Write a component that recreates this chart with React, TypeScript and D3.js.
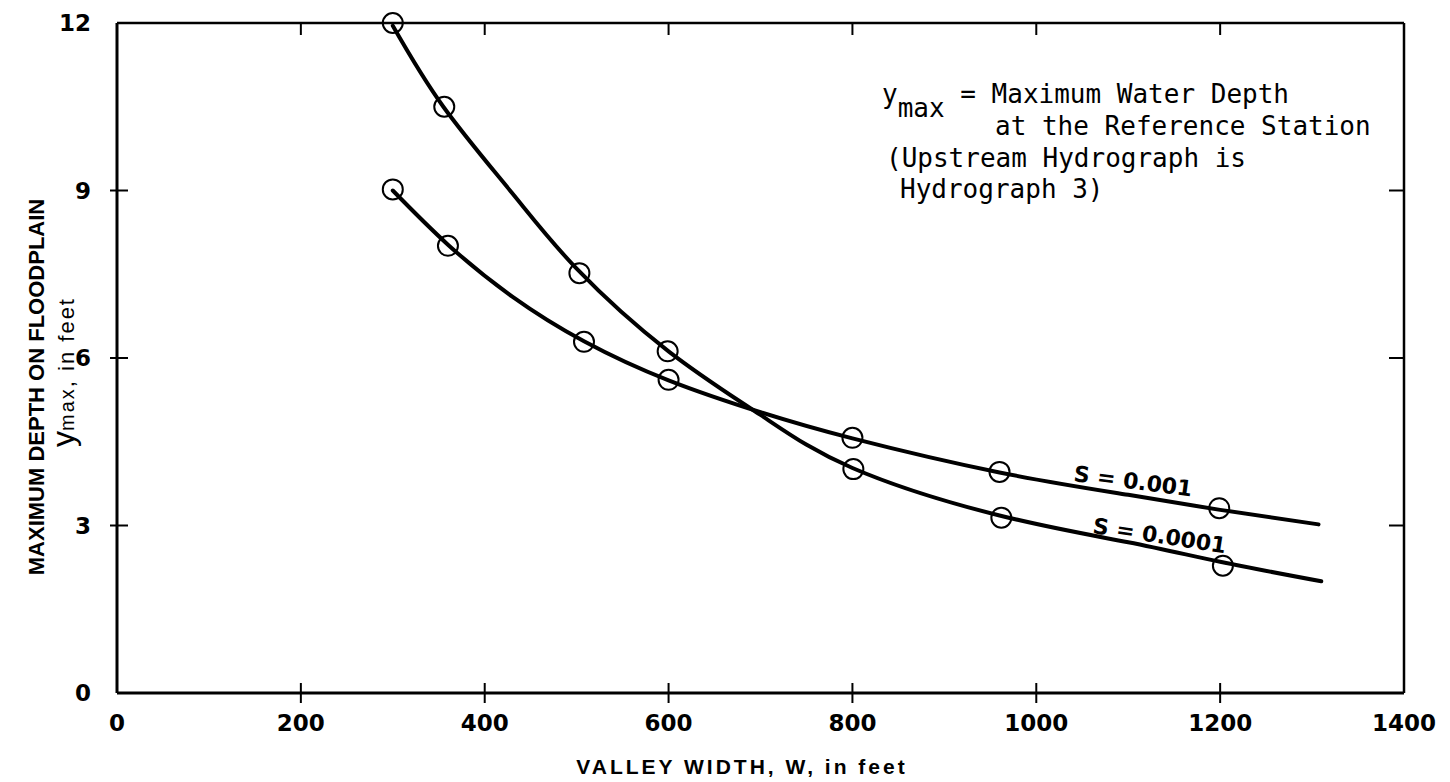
import React from "react";
import * as d3 from "d3";

// ---- data ----
const xTicks = [0, 200, 400, 600, 800, 1000, 1200, 1400];
const yTicks = [0, 3, 6, 9, 12];

// fitted curve S = 0.0001 (width ft, depth ft)
const curveLowSlopeW = [300, 355, 430, 500, 600, 700, 800, 960, 1100, 1200, 1310];
const curveLowSlopeY = [11.95, 10.5, 8.95, 7.6, 6.12, 4.98, 4.03, 3.18, 2.7, 2.35, 2.0];
// fitted curve S = 0.001
const curveHighSlopeW = [300, 360, 430, 508, 600, 700, 800, 960, 1100, 1200, 1307];
const curveHighSlopeY = [9.0, 8.03, 7.1, 6.3, 5.6, 5.03, 4.56, 3.95, 3.55, 3.28, 3.02];

// observed points (circles)
const obsLowSlopeW = [300, 356, 503, 599, 801, 962, 1203];
const obsLowSlopeY = [12.0, 10.5, 7.52, 6.12, 4.01, 3.14, 2.28];
const obsHighSlopeW = [300, 360, 508, 600, 800, 960, 1199];
const obsHighSlopeY = [9.02, 8.01, 6.29, 5.61, 4.57, 3.96, 3.31];

const labelLow = "S = 0.0001";
const labelHigh = "S = 0.001";

const W = 1450;
const H = 782;
const plot = { left: 117, right: 1404, top: 23, bottom: 693 };

export default function App() {
  const x = d3.scaleLinear().domain([0, 1400]).range([plot.left, plot.right]);
  const y = d3.scaleLinear().domain([0, 12]).range([plot.bottom, plot.top]);

  const line = d3
    .line<[number, number]>()
    .x((d) => x(d[0]))
    .y((d) => y(d[1]))
    .curve(d3.curveNatural);

  const lowPts: [number, number][] = curveLowSlopeW.map((w, i) => [w, curveLowSlopeY[i]]);
  const highPts: [number, number][] = curveHighSlopeW.map((w, i) => [w, curveHighSlopeY[i]]);
  const obs = [
    ...obsLowSlopeW.map((w, i) => [w, obsLowSlopeY[i]]),
    ...obsHighSlopeW.map((w, i) => [w, obsHighSlopeY[i]]),
  ];

  const tickFont = "'DejaVu Sans', sans-serif";
  const mono = "'DejaVu Sans Mono', 'Liberation Mono', monospace";
  const helv = "'Liberation Sans', Arial, sans-serif";
  const innerX = xTicks.filter((t) => t > 0 && t < 1400);
  const innerY = yTicks.filter((t) => t > 0 && t < 12);

  return (
    <svg
      width={W}
      height={H}
      style={{ position: "absolute", left: 0, top: 0, background: "#fff" }}
    >
      <rect x={0} y={0} width={W} height={H} fill="#fff" />
      {/* frame */}
      <g stroke="#000" fill="none">
        <line x1={plot.left} y1={plot.top} x2={plot.left} y2={plot.bottom} strokeWidth={3} />
        <line x1={plot.left} y1={plot.bottom} x2={plot.right} y2={plot.bottom} strokeWidth={3} />
        <line x1={plot.left} y1={plot.top} x2={plot.right} y2={plot.top} strokeWidth={2.5} />
        <line x1={plot.right} y1={plot.top} x2={plot.right} y2={plot.bottom} strokeWidth={2.5} />
        {innerX.map((t) => (
          <g key={"xt" + t}>
            <line x1={x(t)} x2={x(t)} y1={plot.bottom - 10} y2={plot.bottom + 10} strokeWidth={2} />
            <line x1={x(t)} x2={x(t)} y1={plot.top} y2={plot.top + 12} strokeWidth={2} />
          </g>
        ))}
        {innerY.map((t) => (
          <g key={"yt" + t}>
            <line x1={plot.left - 7} x2={plot.left + 11} y1={y(t)} y2={y(t)} strokeWidth={2} />
            <line x1={plot.right - 15} x2={plot.right} y1={y(t)} y2={y(t)} strokeWidth={2} />
          </g>
        ))}
      </g>

      {/* tick labels */}
      <g fontFamily={tickFont} fontWeight="bold" fontSize={23} fill="#000">
        {xTicks.map((t) => (
          <text key={"xl" + t} x={x(t)} y={731} textAnchor="middle">
            {t}
          </text>
        ))}
        {yTicks.map((t) => (
          <text key={"yl" + t} x={91} y={y(t) + 8} textAnchor="end">
            {t}
          </text>
        ))}
      </g>

      {/* axis titles */}
      <text
        x={742}
        y={774}
        textAnchor="middle"
        fontFamily={helv}
        fontWeight="bold"
        fontSize={21}
        letterSpacing={3}
      >
        VALLEY WIDTH, W, in feet
      </text>
      <text
        transform="translate(44,387) rotate(-90)"
        textAnchor="middle"
        fontFamily={helv}
        fontWeight="bold"
        fontSize={22}
      >
        MAXIMUM DEPTH ON FLOODPLAIN
      </text>
      <text
        transform="translate(74,372) rotate(-90)"
        textAnchor="middle"
        fontFamily={helv}
        fontSize={22}
        letterSpacing={2}
      >
        <tspan fontSize={32} letterSpacing={0}>y</tspan>
        <tspan fontSize={20}>max</tspan>
        <tspan>, in feet</tspan>
      </text>

      {/* curves */}
      <path d={line(lowPts) || ""} fill="none" stroke="#000" strokeWidth={4} strokeLinecap="round" />
      <path d={line(highPts) || ""} fill="none" stroke="#000" strokeWidth={4} strokeLinecap="round" />

      {/* observations */}
      {obs.map((d, i) => (
        <circle key={"o" + i} cx={x(d[0])} cy={y(d[1])} r={10} fill="none" stroke="#000" strokeWidth={2} />
      ))}

      {/* curve labels */}
      <text
        transform="translate(1073,481) rotate(7.5)"
        fontFamily={tickFont}
        fontWeight="bold"
        fontSize={22}
      >
        {labelHigh}
      </text>
      <text
        transform="translate(1092,533) rotate(8.7)"
        fontFamily={tickFont}
        fontWeight="bold"
        fontSize={22}
      >
        {labelLow}
      </text>

      {/* annotation */}
      <g fontFamily={mono} fontSize={26} fill="#000">
        <text x={882} y={103}>
          <tspan>y</tspan>
          <tspan dy={14}>max</tspan>
          <tspan dy={-14}> = Maximum Water Depth</tspan>
        </text>
        <text x={995} y={135}>at the Reference Station</text>
        <text x={886} y={167}>(Upstream Hydrograph is</text>
        <text x={900} y={198}>Hydrograph 3)</text>
      </g>
    </svg>
  );
}
